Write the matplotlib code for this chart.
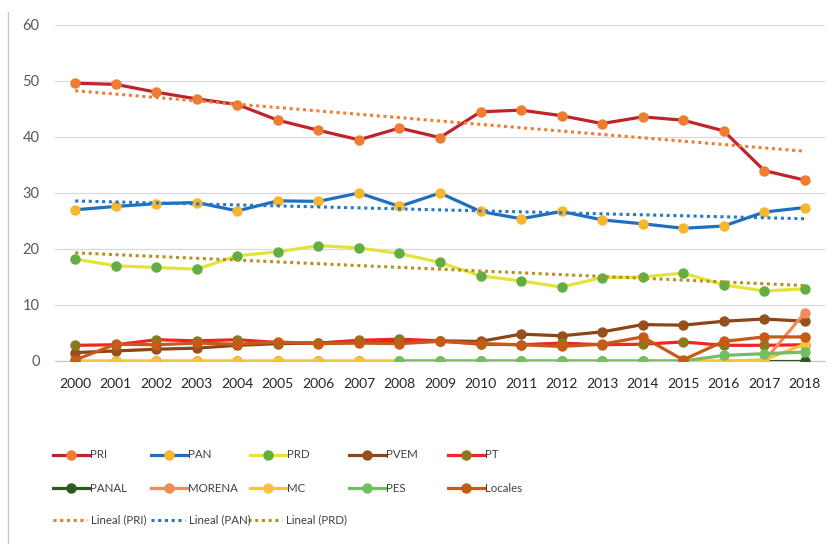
import numpy as np
import matplotlib
matplotlib.use("Agg")
import matplotlib.pyplot as plt
from matplotlib.lines import Line2D

plt.rcParams['font.family'] = ['Lato', 'Liberation Sans', 'DejaVu Sans']

years = [str(y) for y in range(2000, 2019)]
nan = np.nan

PRI = [49.6, 49.4, 48.0, 46.8, 45.8, 43.0, 41.2, 39.5, 41.6, 39.9, 44.5, 44.8, 43.8, 42.4, 43.6, 43.0, 41.1, 34.0, 32.3]
PAN = [27.0, 27.6, 28.1, 28.3, 26.8, 28.6, 28.5, 30.0, 27.6, 30.0, 26.7, 25.4, 26.7, 25.2, 24.5, 23.7, 24.1, 26.6, 27.4]
PRD = [18.2, 17.0, 16.7, 16.4, 18.8, 19.5, 20.6, 20.2, 19.2, 17.6, 15.2, 14.3, 13.2, 14.9, 15.0, 15.7, 13.6, 12.5, 12.9]
PVEM = [1.5, 1.8, 2.1, 2.3, 2.8, 3.1, 3.2, 3.5, 3.5, 3.6, 3.5, 4.8, 4.5, 5.2, 6.5, 6.4, 7.1, 7.5, 7.1]
PT = [2.8, 2.9, 3.8, 3.6, 3.8, 3.3, 3.2, 3.7, 3.9, 3.6, 3.0, 2.9, 3.2, 2.9, 3.0, 3.4, 2.8, 2.8, 2.9]
PANAL = [0.0] * 19
MORENA = [nan] * 17 + [0.0, 8.6]
MC = [0.0] * 17 + [0.2, 3.0]
PES = [nan] * 8 + [0.0] * 8 + [1.0, 1.3, 1.6]
Locales = [0.2, 3.0, 2.9, 3.2, 3.0, 3.4, 3.1, 3.2, 3.1, 3.5, 3.1, 2.9, 2.6, 3.0, 4.3, 0.2, 3.5, 4.3, 4.3]

series = [
    ("PRI", PRI, "#C0242B", "#EE7D31"),
    ("PAN", PAN, "#1F6EBF", "#F6B62E"),
    ("PRD", PRD, "#E3E33C", "#63AD45"),
    ("PVEM", PVEM, "#8B4516", "#96501E"),
    ("PT", PT, "#F22525", "#8A7A1C"),
    ("PANAL", PANAL, "#2F5A1E", "#2F5A1E"),
    ("MORENA", MORENA, "#F08C58", "#F08C58"),
    ("MC", MC, "#F8C23A", "#F8C23A"),
    ("PES", PES, "#72BE62", "#72BE62"),
    ("Locales", Locales, "#C65A16", "#C65A16"),
]
trends = [
    ("Lineal (PRI)", PRI, "#EE7D31"),
    ("Lineal (PAN)", PAN, "#2577C8"),
    ("Lineal (PRD)", PRD, "#B8901E"),
]

W, H = 839, 544
fig = plt.figure(figsize=(W / 100, H / 100), dpi=100)
ax = fig.add_axes([55 / W, 1 - 361 / H, 770 / W, 336 / H])

x = np.arange(len(years))
for name, vals, lc, mc in series:
    ax.plot(x, vals, color=lc, lw=2.3, marker='o', ms=6.5,
            markerfacecolor=mc, markeredgecolor=mc, zorder=3,
            solid_joinstyle='round')

for name, vals, c in trends:
    v = np.array(vals)
    k, b = np.polyfit(x, v, 1)
    ax.plot(x, k * x + b, color=c, lw=2.2, linestyle=(0, (1, 1.2)), zorder=4)

ax.set_xlim(-0.5, len(years) - 0.5)
ax.set_ylim(0, 60)
ax.set_yticks(range(0, 61, 10))
ax.set_xticks(x)
ax.set_xticklabels(years)
ax.grid(axis='y', color='#D9D9D9', lw=0.9)
ax.set_axisbelow(True)
for s in ['top', 'right', 'left']:
    ax.spines[s].set_visible(False)
ax.spines['bottom'].set_color('#C8C8C8')
ax.spines['bottom'].set_linewidth(0.9)
ax.tick_params(axis='y', length=0, pad=11, labelsize=10.5, labelcolor='#595959')
ax.tick_params(axis='x', length=0, pad=12, labelsize=10, labelcolor='#262626')

# left frame line
fig.add_artist(Line2D([8 / W, 8 / W], [0, 1 - 12 / H], transform=fig.transFigure,
                      color='#C8C8C8', lw=1))

# legend (manual, Excel-like grid)
cols = [53, 151, 250, 349, 448]
rows = [455, 488, 520]
legend_layout = [
    (0, 0, 0), (1, 0, 1), (2, 0, 2), (3, 0, 3), (4, 0, 4),
    (5, 1, 0), (6, 1, 1), (7, 1, 2), (8, 1, 3), (9, 1, 4),
]
LFS = 8.3
for idx, r, c in legend_layout:
    name, vals, lc, mc = series[idx]
    x0 = cols[c]
    y = 1 - rows[r] / H
    fig.add_artist(Line2D([x0 / W, (x0 + 36) / W], [y, y], transform=fig.transFigure,
                          color=lc, lw=2.3))
    fig.add_artist(Line2D([(x0 + 18) / W], [y], transform=fig.transFigure,
                          marker='o', ms=6.5, color=mc, markeredgecolor=mc))
    fig.text((x0 + 37) / W, y, name, ha='left', va='center', fontsize=LFS, color='#404040')
for i, (name, vals, c) in enumerate(trends):
    x0 = [53, 151, 248][i]
    y = 1 - rows[2] / H
    fig.add_artist(Line2D([x0 / W, (x0 + 34) / W], [y, y], transform=fig.transFigure,
                          color=c, lw=2.2, linestyle=(0, (1, 1.2))))
    fig.text((x0 + 38) / W, y, name, ha='left', va='center', fontsize=LFS, color='#404040')

fig.savefig("out.png", dpi=100, facecolor='white')
